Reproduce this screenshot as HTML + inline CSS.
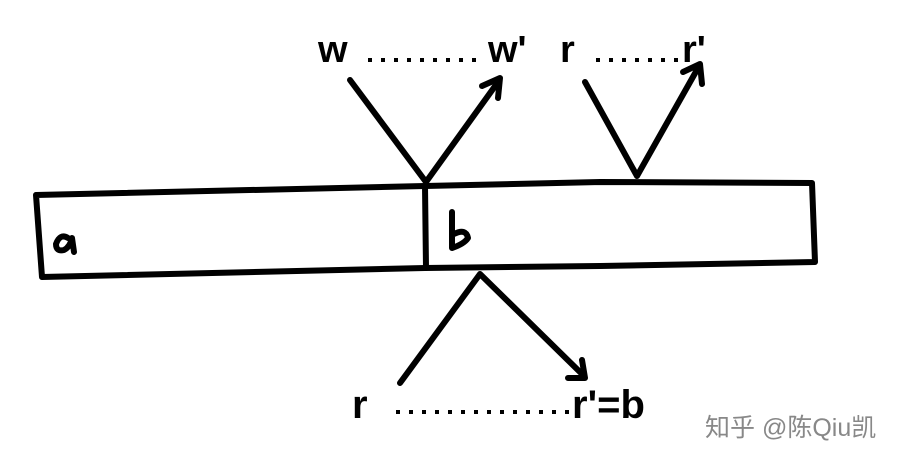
<!DOCTYPE html>
<html><head><meta charset="utf-8"><style>
html,body{margin:0;padding:0;background:#fff;}
svg{display:block;}
</style></head><body>
<svg width="903" height="461" viewBox="0 0 903 461" xmlns="http://www.w3.org/2000/svg">
<g fill="none" stroke="#000" stroke-width="6" stroke-linecap="round" stroke-linejoin="round">
<path d="M36 195 L425 186 L600 182 L812 183 L815 262 L600 266 L425 268 L42 277 Z"/>
<path d="M425 186 L426 268"/>
<path d="M350 80 L426 182 L498 82"/>
<path d="M482 86 L500 78 L498 98"/>
<path d="M585 82 L637 176 L698 68"/>
<path d="M683 72 L700 64 L702 84"/>
<path d="M400 383 L480 274 L582 374"/>
<path d="M568 378 L585 378 L582 360"/>
<path d="M68 238 q-8 -5 -12 6 q0 8 8 6 q6 -3 8 -12 l2 14"/>
<path d="M452 212 l0 36 q12 -4 16 -10 q-2 -10 -14 -4"/>
</g>
<g stroke="#000" stroke-width="4" stroke-dasharray="4 9" fill="none">
<path d="M368 60 L485 60"/>
<path d="M596 60 L685 60"/>
<path d="M396 412 L570 412"/>
</g>
<g font-family="Liberation Sans, sans-serif" font-weight="bold" fill="#000">
<text x="318" y="62" font-size="38">w</text>
<text x="488" y="62" font-size="38">w'</text>
<text x="560" y="62" font-size="38">r</text>
<text x="682" y="62" font-size="38">r'</text>
<text x="352" y="418" font-size="40">r</text>
<text x="572" y="418" font-size="40">r'=b</text>
</g>
<text x="705" y="436" font-family="Liberation Sans, Noto Sans CJK SC, sans-serif" font-size="25" fill="#888">知乎 @陈Qiu凯</text>
</svg>
</body></html>
